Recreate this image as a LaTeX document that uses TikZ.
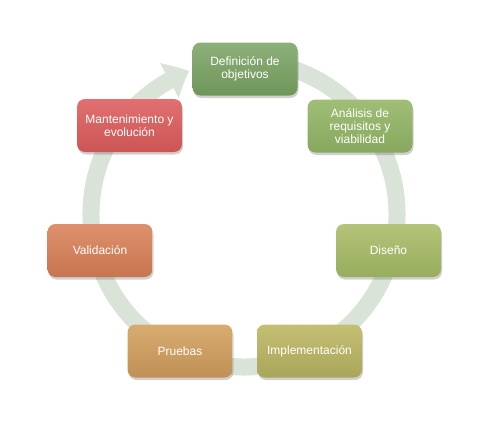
\documentclass[tikz,border=0pt]{standalone}
\usepackage{fontspec}
\setmainfont{Liberation Sans}
\usetikzlibrary{arrows.meta,shadows,bending}
\definecolor{ringc}{HTML}{DAE3D8}
\definecolor{c1t}{HTML}{8DB07A}\definecolor{c1b}{HTML}{6F9659}
\definecolor{c2t}{HTML}{A0BE76}\definecolor{c2b}{HTML}{87A85E}
\definecolor{c3t}{HTML}{B4C478}\definecolor{c3b}{HTML}{98AD5E}
\definecolor{c4t}{HTML}{C4BF73}\definecolor{c4b}{HTML}{A9A55A}
\definecolor{c5t}{HTML}{D8AC70}\definecolor{c5b}{HTML}{C09056}
\definecolor{c6t}{HTML}{DE906C}\definecolor{c6b}{HTML}{C77550}
\definecolor{c7t}{HTML}{E27070}\definecolor{c7b}{HTML}{CC5454}
\tikzset{
  stage/.style n args={2}{rectangle, rounded corners=8pt, minimum width=105pt, minimum height=53pt,
    top color=#1, bottom color=#2, draw=none, text=white, align=center,
    font=\fontsize{12}{13}\selectfont, inner sep=2pt,
    drop shadow={shadow xshift=1pt, shadow yshift=-2.5pt, opacity=0.3, fill=black!60}},
  ring/.style={line width=17pt, draw=ringc}
}
\begin{document}
\begin{tikzpicture}[x=1pt,y=-1pt]
\useasboundingbox (0,0) rectangle (490,423);
\fill[white] (0,0) rectangle (490,423);
\coordinate (ctr) at (244,214);
\draw[ring, -{Triangle[width=38pt,length=22pt,bend]}] ([shift={(-80:153)}]ctr) arc[start angle=-80, end angle=249, radius=153];
\node[stage={c1t}{c1b}] (def) at (245,69) {Definición de\\objetivos};
\node[stage={c2t}{c2b}] (ana) at (360,126) {Análisis de\\requisitos y\\viabilidad};
\node[stage={c3t}{c3b}] (dis) at (388.5,250.5) {Diseño};
\node[stage={c4t}{c4b}] (imp) at (309.5,351) {Implementación};
\node[stage={c5t}{c5b}] (pru) at (180,351) {Pruebas};
\node[stage={c6t}{c6b}] (val) at (100,250.5) {Validación};
\node[stage={c7t}{c7b}] (man) at (129.5,125.5) {Mantenimiento y\\evolución};
\end{tikzpicture}
\end{document}
